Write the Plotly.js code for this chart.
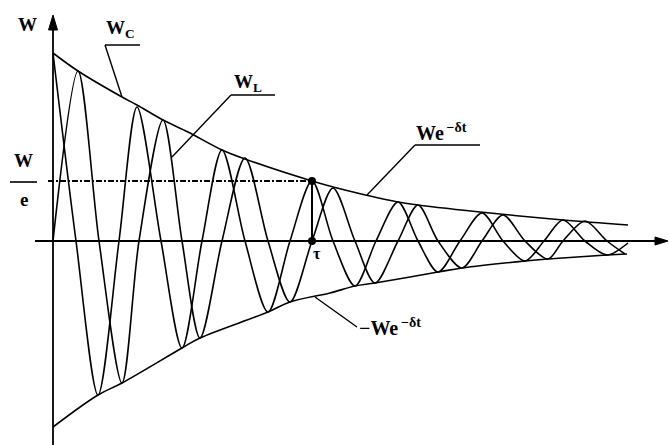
<!DOCTYPE html>
<html>
<head>
<meta charset="utf-8">
<script src="https://cdn.plot.ly/plotly-3.0.1.min.js"></script>
<style>
  html, body { margin: 0; padding: 0; background: #fff; }
  #chart { width: 669px; height: 445px; }
</style>
</head>
<body>
<div id="chart"></div>
<script>
// units: t and W in pixels from the origin

// W_C : starts at its maximum
const wcT = [0, 23, 45, 66, 84, 108, 129, 149, 169, 192, 215, 237, 259, 280, 302, 323, 345, 365, 385, 407, 429, 450, 472, 491, 510, 532, 554, 575];
const wcW = [188, 0, -154, 0, 134, 0, -107, 0, 91, 0, -71, 0, 60, 0, -45, 0, 39, 0, -31, 0, 28, 0, -20, 0, 21, 0, -14, -2];

// W_L : starts at zero
const wlT = [0, 25, 46, 69, 86, 110, 129, 147, 169, 192, 215, 237, 259, 280, 302, 322, 345, 365, 385, 409, 429, 450, 472, 495, 510, 532, 554, 572];
const wlW = [0, 170, 0, -142, 0, 121, 0, -97, 0, 83, 0, -61, 0, 53, 0, -42, 0, 36, 0, -27, 0, 26, 0, -18, 0, 20, 0, -13];

// envelopes We^-δt and -We^-δt
const upT = [0, 25, 69, 84, 110, 135, 169, 192, 259, 284, 345, 365, 437, 510, 575];
const upW = [188, 170, 144, 136, 121, 109, 91, 82, 60, 53, 39, 36, 28, 21, 16];
const loT = [0, 45, 69, 129, 147, 215, 237, 277, 302, 322, 385, 409, 472, 495, 554, 574];
const loW = [-186, -154, -142, -107, -97, -71, -61, -52, -45, -42, -31, -27, -20, -18, -14, -13];

// time constant and W/e level
const tau = 259;
const wOverE = 60;
const dashStart = -5;

const serif = 'Liberation Serif, Times New Roman, serif';
const ink = '#000';

const curve = (x, y, s) => ({
  x, y, type: 'scatter', mode: 'lines', hoverinfo: 'skip',
  line: { color: ink, width: 1.6, shape: 'spline', smoothing: s }
});

const data = [
  curve(upT, upW, 1),
  curve(loT, loW, 1),
  curve(wcT, wcW, 0.85),
  curve(wlT, wlW, 0.85),
  { x: [dashStart, tau], y: [wOverE, wOverE], type: 'scatter', mode: 'lines',
    line: { color: ink, width: 2, dash: '6px,2px,2px,2px' } },
  { x: [tau, tau], y: [wOverE, 0], type: 'scatter', mode: 'lines+markers',
    line: { color: ink, width: 2 }, marker: { color: ink, size: 8 } }
];

const txt = (text, x, y, size, xanchor) => ({
  text, x, y, xref: 'x', yref: 'y', showarrow: false,
  xanchor: xanchor || 'center', yanchor: 'middle',
  font: { family: serif, size, color: ink, weight: 'bold' }
});

const ln = (x0, y0, x1, y1, w) => ({
  type: 'line', xref: 'x', yref: 'y', x0, y0, x1, y1,
  line: { color: ink, width: w || 1.4 }
});

const layout = {
  width: 669,
  height: 445,
  margin: { l: 0, r: 0, t: 0, b: 0 },
  paper_bgcolor: '#fff',
  plot_bgcolor: '#fff',
  showlegend: false,
  xaxis: { range: [-53, 616], visible: false, fixedrange: true },
  yaxis: { range: [-204, 241], visible: false, fixedrange: true },
  shapes: [
    // axes
    ln(0, -204, 0, 214, 1.8),
    ln(-18, 0, 604, 0, 1.8),
    { type: 'path', xref: 'x', yref: 'y', path: 'M0,226 L-4.5,211 L4.5,211 Z', fillcolor: ink, line: { color: ink, width: 1 } },
    { type: 'path', xref: 'x', yref: 'y', path: 'M615,0 L602,4 L602,-4 Z', fillcolor: ink, line: { color: ink, width: 1 } },
    // W/e fraction bar
    ln(-43, 59, -16, 59, 1.6),
    // leaders
    ln(52, 196, 87, 196), ln(52, 196, 69, 144),
    ln(178, 146, 222, 146), ln(178, 146, 119, 84),
    ln(362, 96, 427, 96), ln(362, 96, 314, 46),
    ln(262, -56, 304, -86)
  ],
  annotations: [
    txt('W', -26, 217, 19),
    txt('W<sub>C</sub>', 51, 212, 19, 'left'),
    txt('W<sub>L</sub>', 179, 158, 19, 'left'),
    txt('W', -30, 81, 19),
    txt('e', -29, 42, 19),
    txt('\u03c4', 264, -12, 16),
    txt('We<sup>\u2009\u2212\u03b4t</sup>', 361, 109, 20, 'left'),
    txt('\u2212We<sup>\u2009\u2212\u03b4t</sup>', 304, -86, 20, 'left')
  ]
};

Plotly.newPlot('chart', data, layout, { displayModeBar: false, staticPlot: true });
</script>
</body>
</html>
